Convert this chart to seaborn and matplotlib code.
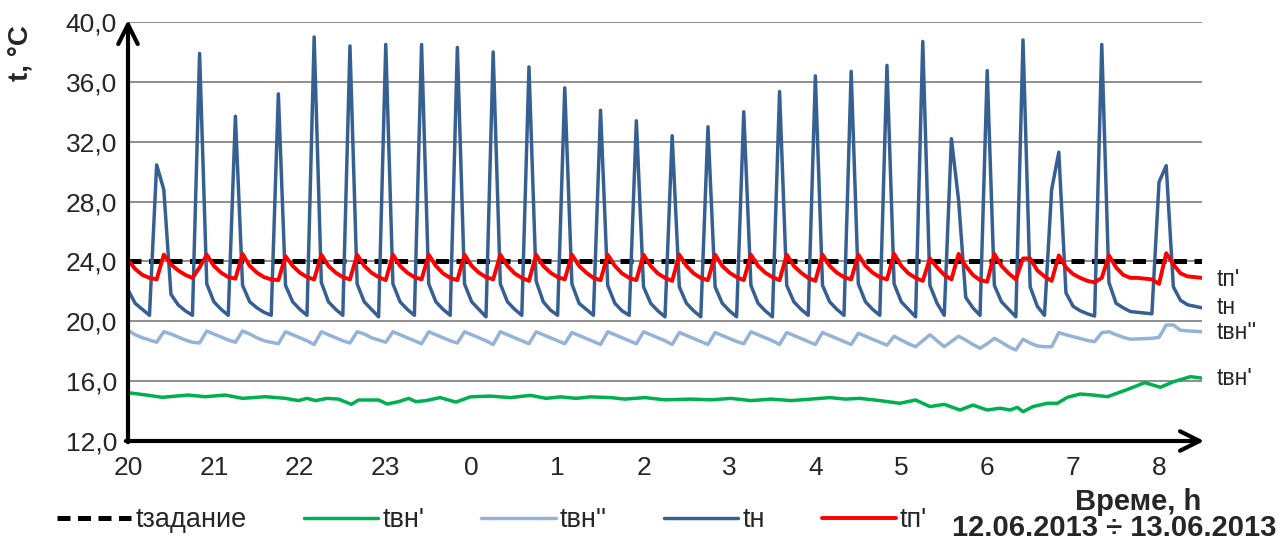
import numpy as np
import pandas as pd
import matplotlib
matplotlib.use("Agg")
import matplotlib.pyplot as plt
import matplotlib.transforms as mtransforms
import seaborn as sns

# samples every 5 minutes, 20:00 (12.06) -> 08:30 (13.06)
step_min = 5

# tн, one value per 5 min
t_n = [22.1, 21.2, 20.8, 20.4, 30.45, 28.8, 21.8, 21.1, 20.7, 20.4,
       37.9, 22.5, 21.3, 20.8, 20.4, 33.7, 22.4, 21.3, 20.9, 20.6,
       20.4, 35.2, 22.4, 21.3, 20.8, 20.4, 39.0, 22.6, 21.3, 20.8,
       20.4, 38.4, 22.5, 21.3, 20.8, 20.3, 38.5, 22.5, 21.3, 20.8,
       20.4, 38.5, 22.5, 21.3, 20.8, 20.4, 38.3, 22.5, 21.3, 20.8,
       20.3, 38.0, 22.5, 21.3, 20.8, 20.4, 37.0, 22.7, 21.3, 20.75,
       20.4, 35.6, 22.5, 21.2, 20.8, 20.4, 34.1, 22.4, 21.2, 20.7,
       20.4, 33.4, 22.3, 21.2, 20.7, 20.3, 32.4, 22.3, 21.2, 20.7,
       20.3, 33.0, 22.3, 21.2, 20.7, 20.3, 34.0, 22.4, 21.2, 20.7,
       20.3, 35.35, 22.4, 21.3, 20.8, 20.4, 36.4, 22.4, 21.3, 20.8,
       20.4, 36.7, 22.5, 21.3, 20.8, 20.4, 37.1, 22.5, 21.3, 20.8,
       20.3, 38.7, 22.4, 21.2, 20.4, 32.2, 28.1, 21.6, 20.9, 20.4,
       36.75, 22.4, 21.3, 20.8, 20.3, 38.8, 22.3, 21.0, 20.4, 28.8,
       31.3, 21.9, 21.0, 20.7, 20.5, 20.35, 38.5, 22.6, 21.2, 20.9,
       20.65, 20.6, 20.55, 20.5, 29.3, 30.4, 22.3, 21.4, 21.1, 21.0,
       20.9]

# tп'
t_p = [24.1, 23.5, 23.1, 22.9, 22.8, 24.45, 23.8, 23.4, 23.1, 22.9,
       23.6, 24.45, 23.7, 23.25, 22.95, 22.85, 24.5, 23.7, 23.25, 22.95,
       22.8, 22.75, 24.35, 23.7, 23.25, 22.95, 22.8, 24.45, 23.7, 23.25,
       22.95, 22.8, 24.45, 23.7, 23.25, 22.95, 22.75, 24.45, 23.7, 23.25,
       22.95, 22.8, 24.45, 23.7, 23.2, 22.9, 22.75, 24.45, 23.7, 23.25,
       22.95, 22.8, 24.45, 23.7, 23.2, 22.9, 22.7, 24.45, 23.7, 23.25,
       22.95, 22.8, 24.45, 23.7, 23.25, 22.9, 22.75, 24.45, 23.7, 23.2,
       22.9, 22.75, 24.45, 23.7, 23.2, 22.9, 22.7, 24.45, 23.7, 23.2,
       22.9, 22.75, 24.45, 23.7, 23.25, 22.95, 22.75, 24.45, 23.7, 23.25,
       22.95, 22.75, 24.45, 23.7, 23.25, 22.9, 22.7, 24.45, 23.7, 23.25,
       22.95, 22.8, 24.45, 23.7, 23.25, 22.95, 22.8, 24.5, 23.7, 23.2,
       22.9, 22.7, 24.2, 23.6, 23.1, 22.8, 24.5, 23.7, 23.1, 22.75,
       22.65, 24.5, 23.7, 23.2, 22.8, 24.2, 24.2, 23.4, 23.0, 22.7,
       24.4, 23.6, 23.15, 22.9, 22.7, 22.6, 22.9, 24.4, 23.6, 23.1,
       22.9, 22.9, 22.85, 22.8, 22.5, 24.55, 23.8, 23.2, 23.0, 22.95,
       22.9]

# tвн''
t_vn2 = [19.4, 19.1, 18.9, 18.75, 18.6, 19.3, 19.15, 18.95, 18.75, 18.6,
         18.55, 19.35, 19.15, 18.95, 18.75, 18.6, 19.35, 19.15, 18.9, 18.7,
         18.6, 18.5, 19.3, 19.1, 18.9, 18.7, 18.45, 19.3, 19.1, 18.9,
         18.7, 18.55, 19.3, 19.15, 18.9, 18.75, 18.6, 19.3, 19.1, 18.9,
         18.7, 18.5, 19.3, 19.1, 18.9, 18.7, 18.55, 19.3, 19.1, 18.9,
         18.7, 18.45, 19.3, 19.1, 18.9, 18.7, 18.5, 19.3, 19.1, 18.9,
         18.7, 18.5, 19.25, 19.05, 18.85, 18.65, 18.45, 19.3, 19.1, 18.9,
         18.7, 18.5, 19.3, 19.1, 18.9, 18.7, 18.45, 19.25, 19.05, 18.85,
         18.65, 18.45, 19.25, 19.05, 18.85, 18.65, 18.5, 19.3, 19.1, 18.9,
         18.7, 18.45, 19.25, 19.05, 18.85, 18.65, 18.45, 19.25, 19.05, 18.85,
         18.65, 18.45, 19.2, 19.0, 18.8, 18.6, 18.4, 19.0, 18.75, 18.5,
         18.3, 18.7, 19.1, 18.7, 18.3, 18.65, 19.0, 18.75, 18.45, 18.2,
         18.5, 18.86, 18.6, 18.3, 18.08, 18.8, 18.55, 18.35, 18.3, 18.3,
         19.24, 19.1, 18.97, 18.85, 18.72, 18.64, 19.24, 19.3, 19.1, 18.93,
         18.8, 18.82, 18.84, 18.86, 18.93, 19.75, 19.75, 19.4, 19.36, 19.33,
         19.3]

# tвн' - read at its break points (minutes after 20:00)
vn1_min = [0, 13, 24, 42, 54, 68, 80, 96, 110, 119, 125, 131, 139, 147, 156,
           161, 175, 181, 189, 196, 201, 208, 218, 229, 239, 253, 267, 281,
           292, 302, 313, 323, 337, 347, 361, 375, 393, 407, 421, 435, 449,
           463, 477, 490, 501, 511, 525, 539, 550, 560, 570, 581, 590, 600,
           609, 616, 621, 625, 632, 642, 649, 656, 665, 674, 684, 697, 710,
           721, 730, 742, 750]
vn1_val = [15.23, 15.07, 14.92, 15.07, 14.96, 15.07, 14.85, 14.96, 14.85, 14.7,
           14.85, 14.7, 14.85, 14.8, 14.45, 14.74, 14.74, 14.47, 14.63, 14.85,
           14.63, 14.7, 14.9, 14.6, 14.95, 15.0, 14.9, 15.05, 14.85, 14.95,
           14.85, 14.95, 14.9, 14.8, 14.9, 14.75, 14.8, 14.75, 14.85, 14.7,
           14.8, 14.7, 14.8, 14.9, 14.8, 14.85, 14.7, 14.52, 14.74, 14.3,
           14.45, 14.07, 14.4, 14.07, 14.19, 14.07, 14.25, 13.96, 14.3, 14.52,
           14.52, 14.92, 15.14, 15.07, 14.96, 15.41, 15.9, 15.59, 15.96, 16.3,
           16.2]

t_set = 24.0
hour_labels = ["20", "21", "22", "23", "0", "1", "2", "3", "4", "5", "6", "7", "8"]
names = ["tзадание", "tвн'", "tвн''", "tн", "tп'"]
colors = ["black", "#00B050", "#95B3D7", "#376092", "#FF0000"]

hours = np.arange(len(t_n)) * step_min / 60
df = pd.DataFrame({"h": hours, "tн": t_n, "tп'": t_p, "tвн''": t_vn2,
                   "tзадание": [t_set] * len(t_n)})
df_vn1 = pd.DataFrame({"h": np.array(vn1_min) / 60, "tвн'": vn1_val})

sns.set_style("white")
plt.rcParams["font.family"] = ["Liberation Sans", "DejaVu Sans"]

fig = plt.figure(figsize=(12.84, 5.46), dpi=100)
ax = fig.add_axes([128 / 1284, 105 / 546, 1074 / 1284, 419 / 546])

sns.lineplot(data=df, x="h", y="tзадание", ax=ax, color=colors[0], lw=3.6,
             label=names[0], legend=False)
ax.lines[-1].set_dashes((2.6, 1.5))
sns.lineplot(data=df_vn1, x="h", y="tвн'", ax=ax, color=colors[1], lw=2.5,
             label=names[1], legend=False)
sns.lineplot(data=df, x="h", y="tвн''", ax=ax, color=colors[2], lw=2.5,
             label=names[2], legend=False)
sns.lineplot(data=df, x="h", y="tн", ax=ax, color=colors[3], lw=2.5,
             label=names[3], legend=False)
sns.lineplot(data=df, x="h", y="tп'", ax=ax, color=colors[4], lw=2.8,
             label=names[4], legend=False)

ax.set_xlim(0, 12.5)
ax.set_ylim(12, 40)
yt = np.arange(12, 41, 4)
ax.set_yticks(yt)
ax.set_yticklabels([f"{v:.1f}".replace(".", ",") for v in yt])
ax.set_xticks(range(len(hour_labels)))
ax.set_xticklabels(hour_labels)
ax.tick_params(axis="both", length=0, labelsize=19)
ax.tick_params(axis="y", pad=8)
ax.tick_params(axis="x", pad=11)
ax.set_xlabel("")
ax.set_ylabel("")
ax.grid(axis="y", color="#868686", lw=1.3)
ax.grid(axis="x", visible=False)
ax.set_axisbelow(True)
for s in ax.spines.values():
    s.set_visible(False)

# axis arrows
arr = dict(arrowstyle="->,head_length=0.7,head_width=0.35", lw=3, color="black",
           shrinkA=0, shrinkB=0, mutation_scale=20)
ax.annotate("", xy=(0, 1.005), xytext=(0, -0.003), xycoords="axes fraction",
            arrowprops=arr, annotation_clip=False)
ax.annotate("", xy=(1.002, 0), xytext=(-0.002, 0), xycoords="axes fraction",
            arrowprops=arr, annotation_clip=False)

# series names at right end
trans = mtransforms.blended_transform_factory(ax.transAxes, ax.transData)
for lab, yv in [("tп'", 22.8), ("tн", 20.95), ("tвн''", 19.25), ("tвн'", 16.2)]:
    ax.text(1.014, yv, lab, transform=trans, fontsize=16.5, va="center", ha="left")

fig.text(0.016, 0.902, "t, °C", rotation=90, fontsize=20, fontweight="bold",
         ha="center", va="center")
fig.text(1201 / 1284, 1 - 502 / 546, "Време, h", fontsize=21, fontweight="bold",
         ha="right", va="center")
fig.text(1276 / 1284, 1 - 528 / 546, "12.06.2013 ÷ 13.06.2013", fontsize=21,
         fontweight="bold", ha="right", va="center")

handles, labels = ax.get_legend_handles_labels()
fig.legend(handles, labels, loc="center left", bbox_to_anchor=(57 / 1284, 1 - 520 / 546),
           ncol=5, frameon=False, fontsize=19.5, handlelength=2.75, handletextpad=0.15,
           columnspacing=2.1, borderaxespad=0, borderpad=0)

fig.savefig("out.png", dpi=100)
